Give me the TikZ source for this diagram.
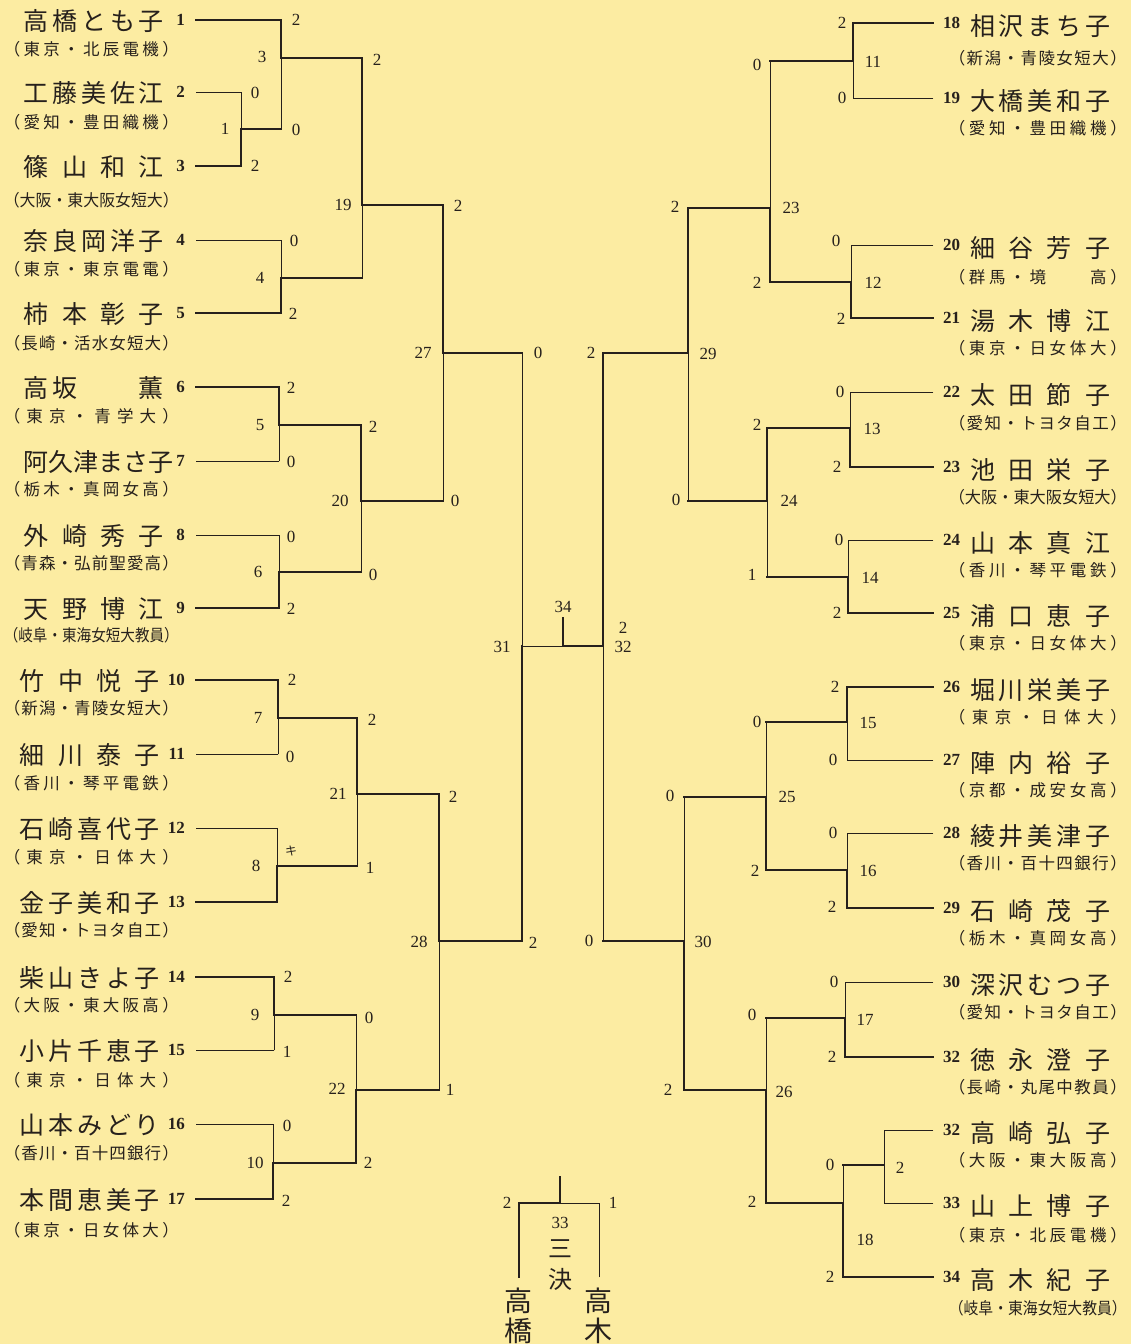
\documentclass[tikz,border=0pt]{standalone}
\usepackage{fontspec}
\usepackage{graphicx}
\setmainfont{Liberation Serif}
\newfontfamily\jpn{Noto Sans CJK JP}
\definecolor{paper}{RGB}{252,236,162}
\definecolor{ink}{RGB}{38,32,28}
\def\spreadit#1{\spreadA#1\relax}
\def\spreadA#1#2{#1\ifx\relax#2\expandafter\spgobble\else\hfill\expandafter\spreadA\fi#2}
\def\spgobble#1{}
\newsavebox\affsb
\newcommand\affbox[2]{\sbox\affsb{#2}\ifdim\wd\affsb>#1\relax\pgfmathsetmacro\affscl{(#1)/(\the\wd\affsb)}\scalebox{\affscl}[1]{\usebox\affsb}\else\hbox to #1{\spreadit{#2}}\fi}
\tikzset{
  thn/.style={draw=ink, line width=0.9pt, line cap=rect},
  thk/.style={draw=ink, line width=2.7pt, line cap=rect},
  nm/.style={font=\jpn\fontsize{25}{25}\selectfont, text=ink, inner sep=0pt},
  aff/.style={font=\jpn\fontsize{16.5}{17}\selectfont, text=ink, inner sep=0pt},
  pnum/.style={font=\bfseries\fontsize{17}{17}\selectfont, text=ink, inner sep=0pt},
  sc/.style={font=\fontsize{17}{17}\selectfont, text=ink, inner sep=0pt},
  big/.style={font=\jpn\fontsize{28}{28}\selectfont, text=ink, inner sep=0pt},
}
% left player: #1 num, #2 y, #3 name, #4 aff, #5 line end x, #6 style, #7 name right x, #8 aff dy
\newcommand\LP[8]{%
  \node[pnum,anchor=east] (pn#1) at (185,#2) {#1};
  \node[nm,anchor=east] (nm#1) at (#7,#2+1) {\hbox to 140pt{\spreadit{#3}}};
  \node[aff,anchor=east] (af#1) at (179,#2+#8) {\affbox{175pt}{#4}};
  \coordinate (ps#1) at (196,#2);
  \coordinate (pe#1) at (#5,#2);
  \draw[#6] (ps#1) -- (pe#1);
}
% right player: #1 id, #2 num, #3 y, #4 name, #5 aff, #6 line start x, #7 style, #8 aff dy
\newcommand\RP[8]{%
  \node[pnum,anchor=west] (rn#1) at (943,#3) {#2};
  \node[nm,anchor=west] (rm#1) at (970,#3+3) {\hbox to 140pt{\spreadit{#4}}};
  \node[aff,anchor=east] (ra#1) at (1127,#3+#8) {\affbox{178pt}{#5}};
  \coordinate (rs#1) at (#6,#3);
  \coordinate (re#1) at (933,#3);
  \draw[#7] (rs#1) -- (re#1);
}
% match: #1 x, #2 ytop, #3 yout, #4 ybot, #5 xout, #6 top style, #7 bottom style
\newcommand\MT[7]{%
  \draw[#6] (#1,#2) -- (#1,#3);
  \draw[#7] (#1,#3) -- (#1,#4);
  \draw[thk] (#1,#3) -- (#5,#3);
}
\begin{document}
\begin{tikzpicture}[x=1pt,y=-1pt]
\fill[paper] (0,0) rectangle (1131,1344);
\useasboundingbox (0,0) rectangle (1131,1344);

% ---------- left players
\LP{1}{20}{高橋とも子}{（東京・北辰電機）}{281}{thk}{164}{29}
\LP{2}{92}{工藤美佐江}{（愛知・豊田織機）}{241}{thn}{164}{30}
\LP{3}{166}{篠山和江}{（大阪・東大阪女短大）}{241}{thk}{164}{34}
\LP{4}{240}{奈良岡洋子}{（東京・東京電電）}{281}{thn}{164}{29}
\LP{5}{313}{柿本彰子}{（長崎・活水女短大）}{281}{thk}{164}{30}
\LP{6}{387}{高坂　　薫}{（東京・青学大）}{279}{thk}{164}{29}
\LP{7}{461}{阿久津まさ子}{（栃木・真岡女高）}{279}{thn}{164}{28}
\LP{8}{535}{外崎秀子}{（青森・弘前聖愛高）}{279}{thn}{164}{28}
\LP{9}{608}{天野博江}{（岐阜・東海女短大教員）}{279}{thk}{164}{27}
\LP{10}{680}{竹中悦子}{（新潟・青陵女短大）}{278}{thk}{160}{28}
\LP{11}{754}{細川泰子}{（香川・琴平電鉄）}{278}{thn}{160}{29}
\LP{12}{828}{石崎喜代子}{（東京・日体大）}{277}{thn}{160}{29}
\LP{13}{902}{金子美和子}{（愛知・トヨタ自工）}{277}{thk}{160}{28}
\LP{14}{977}{柴山きよ子}{（大阪・東大阪高）}{274}{thk}{160}{28}
\LP{15}{1050}{小片千恵子}{（東京・日体大）}{274}{thn}{160}{30}
\LP{16}{1124}{山本みどり}{（香川・百十四銀行）}{273}{thn}{160}{29}
\LP{17}{1199}{本間恵美子}{（東京・日女体大）}{273}{thk}{160}{31}

% ---------- right players
\RP{18}{18}{23}{相沢まち子}{（新潟・青陵女短大）}{853}{thk}{35}
\RP{19}{19}{98}{大橋美和子}{（愛知・豊田織機）}{853}{thn}{30}
\RP{20}{20}{245}{細谷芳子}{（群馬・境　　高）}{851}{thn}{32}
\RP{21}{21}{318}{湯木博江}{（東京・日女体大）}{851}{thk}{30}
\RP{22}{22}{392}{太田節子}{（愛知・トヨタ自工）}{850}{thn}{31}
\RP{23}{23}{467}{池田栄子}{（大阪・東大阪女短大）}{850}{thk}{30}
\RP{24}{24}{540}{山本真江}{（香川・琴平電鉄）}{848}{thn}{30}
\RP{25}{25}{613}{浦口恵子}{（東京・日女体大）}{848}{thk}{30}
\RP{26}{26}{687}{堀川栄美子}{（東京・日体大）}{847}{thk}{30}
\RP{27}{27}{760}{陣内裕子}{（京都・成安女高）}{847}{thn}{30}
\RP{28}{28}{833}{綾井美津子}{（香川・百十四銀行）}{847}{thn}{30}
\RP{29}{29}{908}{石崎茂子}{（栃木・真岡女高）}{847}{thk}{30}
\RP{30}{30}{982}{深沢むつ子}{（愛知・トヨタ自工）}{845}{thn}{30}
\RP{31}{32}{1057}{徳永澄子}{（長崎・丸尾中教員）}{845}{thk}{30}
\RP{32}{32}{1130}{高崎弘子}{（大阪・東大阪高）}{884}{thn}{30}
\RP{33}{33}{1203}{山上博子}{（東京・北辰電機）}{884}{thn}{32}
\RP{34}{34}{1277}{高木紀子}{（岐阜・東海女短大教員）}{843}{thk}{31}

% ---------- left bracket
\MT{241}{92}{129}{166}{281}{thn}{thk}
\MT{281}{20}{58}{129}{362}{thk}{thn}
\MT{281}{240}{278}{313}{362}{thn}{thk}
\MT{362}{58}{205}{278}{443}{thk}{thn}
\MT{279}{387}{425}{461}{361}{thk}{thn}
\MT{279}{535}{572}{608}{361}{thn}{thk}
\MT{361}{425}{501}{572}{443}{thk}{thn}
\MT{443}{205}{353}{501}{522}{thk}{thn}
\MT{278}{680}{718}{754}{357}{thk}{thn}
\MT{277}{828}{866}{902}{357}{thn}{thk}
\MT{357}{718}{794}{866}{439}{thk}{thn}
\MT{274}{977}{1015}{1050}{356}{thk}{thn}
\MT{273}{1124}{1163}{1199}{356}{thn}{thk}
\MT{356}{1015}{1090}{1163}{439}{thn}{thk}
\MT{439}{794}{941}{1090}{522}{thk}{thn}

% ---------- right bracket
\MT{853}{23}{61}{98}{770}{thk}{thn}
\MT{851}{245}{282}{318}{770}{thn}{thk}
\MT{770}{61}{208}{282}{688}{thn}{thk}
\MT{850}{392}{428}{467}{767}{thn}{thk}
\MT{848}{540}{577}{613}{767}{thn}{thk}
\MT{767}{428}{501}{577}{688}{thk}{thn}
\MT{688}{208}{353}{501}{603}{thk}{thn}
\MT{847}{687}{722}{760}{766}{thk}{thn}
\MT{847}{833}{870}{908}{766}{thn}{thk}
\MT{766}{722}{797}{870}{684}{thn}{thk}
\MT{845}{982}{1018}{1057}{766}{thn}{thk}
\MT{884}{1130}{1165}{1203}{843}{thn}{thn}
\MT{843}{1165}{1203}{1277}{766}{thn}{thk}
\MT{766}{1018}{1090}{1203}{684}{thn}{thk}
\MT{684}{797}{941}{1090}{603}{thn}{thk}

% ---------- semi finals and final
\coordinate (s31) at (522,646);
\coordinate (f34) at (563,646);
\coordinate (s32) at (603,646);
\coordinate (f34t) at (563,618);
\draw[thn] (522,353) -- (s31);
\draw[thk] (s31) -- (522,941);
\draw[thn] (s31) -- (f34);
\draw[thk] (603,353) -- (s32);
\draw[thn] (s32) -- (603,941);
\draw[thk] (f34) -- (s32);
\draw[thk] (f34) -- (f34t);

% ---------- third place
\coordinate (t33l) at (519,1203);
\coordinate (t33m) at (560,1203);
\coordinate (t33r) at (599,1203);
\coordinate (t33t) at (560,1177);
\draw[thn] (t33m) -- (t33r);
\draw[thn] (t33r) -- (599,1277);
\draw[thk] (t33l) -- (t33m);
\draw[thk] (t33m) -- (t33t);
\draw[thk] (t33l) -- (519,1277);

% ---------- scores
\foreach \x/\y/\t [count=\i] in {
 296/20/2, 296/130/0, 255/93/0, 255/166/2, 377/60/2, 294/241/0, 293/314/2,
 458/206/2, 455/501/0, 538/353/0, 533/943/2, 291/388/2, 291/462/0, 373/427/2,
 373/575/0, 291/537/0, 291/609/2, 292/680/2, 290/757/0, 372/720/2, 370/868/1,
 453/797/2, 450/1090/1, 288/977/2, 287/1052/1, 369/1018/0, 368/1163/2,
 287/1126/0, 286/1201/2,
 842/23/2, 842/98/0, 836/241/0, 841/319/2, 757/65/0, 757/283/2, 840/392/0,
 837/467/2, 839/540/0, 837/613/2, 757/425/2, 752/575/1, 675/207/2, 676/500/0,
 591/353/2, 589/941/0, 835/687/2, 833/760/0, 833/833/0, 832/907/2, 757/722/0,
 755/871/2, 834/982/0, 832/1057/2, 830/1165/0, 830/1277/2, 752/1015/0,
 752/1202/2, 670/796/0, 668/1090/2, 623/628/2, 507/1203/2, 613/1203/1}
  \node[sc] (sc\i) at (\x,\y) {\t};

% ---------- match numbers
\foreach \x/\y/\t [count=\i] in {
 262/57/3, 225/129/1, 343/205/19, 260/278/4, 423/353/27, 260/425/5, 340/501/20,
 258/572/6, 502/647/31, 258/718/7, 338/794/21, 256/866/8, 419/942/28,
 255/1015/9, 337/1089/22, 255/1163/10,
 873/62/11, 873/283/12, 791/208/23, 872/429/13, 870/578/14, 789/501/24,
 708/354/29, 868/723/15, 868/871/16, 787/797/25, 865/1020/17, 900/1168/2,
 865/1240/18, 784/1092/26, 703/942/30, 623/647/32, 563/607/34, 560/1223/33}
  \node[sc] (mn\i) at (\x,\y) {\t};

\node[font=\jpn\fontsize{12}{12}\selectfont, text=ink, inner sep=0pt] (ki) at (291,851) {キ};

% ---------- vertical labels at bottom
\node[big] (vl1) at (518,1301) {高};
\node[big] (vl2) at (518,1331) {橋};
\node[big, font=\jpn\fontsize{24}{24}\selectfont] (vm1) at (560,1249) {三};
\node[big, font=\jpn\fontsize{24}{24}\selectfont] (vm2) at (560,1279) {決};
\node[big] (vr1) at (598,1301) {高};
\node[big] (vr2) at (598,1331) {木};
\end{tikzpicture}
\end{document}
